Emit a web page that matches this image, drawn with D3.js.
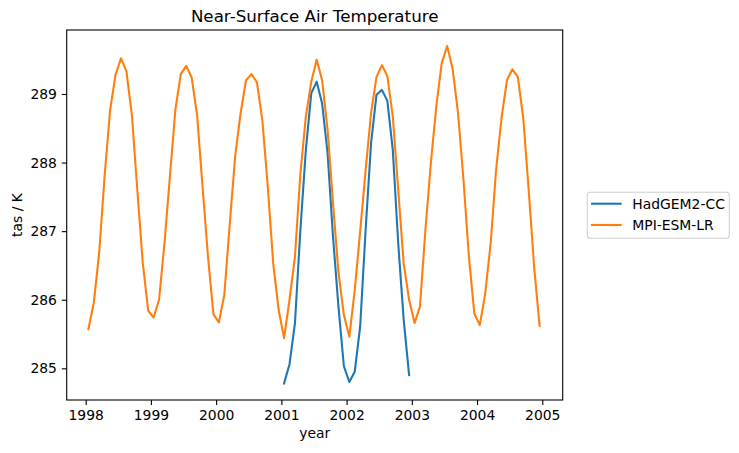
<!DOCTYPE html>
<html>
<head>
<meta charset="utf-8">
<script src="https://cdn.jsdelivr.net/npm/d3@7"></script>
<style>
	body { margin: 0; background: #fff; }
	svg text { font-family: "DejaVu Sans", sans-serif; fill: #000; }
</style>
</head>
<body>
<svg id="chart"></svg>
<script>
// monthly means, one value per month
const mpiStart = 1998;
const mpiValues = [
	285.57, 285.96, 286.70, 287.82, 288.77, 289.28, 289.52, 289.33, 288.69, 287.60, 286.54, 285.84,
	285.74, 286.00, 286.83, 287.80, 288.77, 289.29, 289.41, 289.24, 288.69, 287.65, 286.63, 285.79,
	285.67, 286.07, 287.10, 288.09, 288.72, 289.20, 289.29, 289.17, 288.62, 287.65, 286.53, 285.85,
	285.44, 286.00, 286.63, 287.84, 288.67, 289.18, 289.50, 289.20, 288.48, 287.41, 286.40, 285.78,
	285.46, 286.14, 287.00, 287.89, 288.72, 289.25, 289.42, 289.26, 288.67, 287.60, 286.53, 286.00,
	285.66, 285.90, 287.02, 287.99, 288.82, 289.45, 289.70, 289.37, 288.72, 287.75, 286.63, 285.80,
	285.63, 286.09, 286.82, 287.89, 288.65, 289.20, 289.36, 289.25, 288.65, 287.60, 286.48, 285.62
];
const hadgemStart = 2001;
const hadgemValues = [
	284.78, 285.06, 285.66, 287.02, 288.18, 289.01, 289.18, 288.86, 288.14, 286.92, 285.90, 285.03,
	284.80, 284.95, 285.61, 287.02, 288.28, 288.99, 289.06, 288.90, 288.18, 286.82, 285.71, 284.90
];
const seriesNames = ["HadGEM2-CC", "MPI-ESM-LR"];
const xTicks = [1998, 1999, 2000, 2001, 2002, 2003, 2004, 2005];
const yTicks = [285, 286, 287, 288, 289];

const W = 739, H = 453;
const plot = { left: 66.7, top: 30, right: 562.7, bottom: 400 };
const colors = ["#1f77b4", "#ff7f0e"];

const toPoints = (start, vals) => vals.map((v, i) => ({ t: start + (i + 0.5) / 12, v }));
const series = [toPoints(hadgemStart, hadgemValues), toPoints(mpiStart, mpiValues)];

const svg = d3.select("#chart").attr("width", W).attr("height", H);

const x = d3.scaleLinear().domain([1997.709, 2005.313]).range([plot.left, plot.right]);
const y = d3.scaleLinear().domain([284.538, 289.933]).range([plot.bottom, plot.top]);

const line = d3.line().x(d => x(d.t)).y(d => y(d.v));

const clipG = svg.append("defs").append("clipPath").attr("id", "clip")
	.append("rect")
	.attr("x", plot.left).attr("y", plot.top)
	.attr("width", plot.right - plot.left).attr("height", plot.bottom - plot.top);

svg.append("g").attr("clip-path", "url(#clip)")
	.selectAll("path")
	.data(series)
	.enter()
	.append("path")
	.attr("d", line)
	.attr("fill", "none")
	.attr("stroke", (d, i) => colors[i])
	.attr("stroke-width", 2.1)
	.attr("stroke-linejoin", "round")
	.attr("stroke-linecap", "square");

// axes
const xAxis = svg.append("g")
	.attr("transform", "translate(0," + plot.bottom + ")")
	.call(d3.axisBottom(x).tickValues(xTicks).tickFormat(d3.format("d")).tickSize(4.9).tickPadding(4.9));
const yAxis = svg.append("g")
	.attr("transform", "translate(" + plot.left + ",0)")
	.call(d3.axisLeft(y).tickValues(yTicks).tickFormat(d3.format("d")).tickSize(4.9).tickPadding(4.9));

[xAxis, yAxis].forEach(a => {
	a.select(".domain").remove();
	a.selectAll(".tick line").attr("stroke", "#000").attr("stroke-width", 1.1);
	a.selectAll(".tick text").style("font-size", "13.9px").attr("fill", "#000");
});

// frame
svg.append("rect")
	.attr("x", plot.left).attr("y", plot.top)
	.attr("width", plot.right - plot.left).attr("height", plot.bottom - plot.top)
	.attr("fill", "none").attr("stroke", "#000").attr("stroke-width", 1.1);

// labels
svg.append("text")
	.attr("x", (plot.left + plot.right) / 2).attr("y", 22)
	.attr("text-anchor", "middle").style("font-size", "16.7px")
	.text("Near-Surface Air Temperature");
svg.append("text")
	.attr("x", (plot.left + plot.right) / 2).attr("y", 438)
	.attr("text-anchor", "middle").style("font-size", "13.9px")
	.text("year");
svg.append("text")
	.attr("transform", "translate(22," + (plot.top + plot.bottom) / 2 + ") rotate(-90)")
	.attr("text-anchor", "middle").style("font-size", "13.9px")
	.text("tas / K");

// legend
const legend = svg.append("g");
legend.append("rect")
	.attr("x", 587.3).attr("y", 192.3).attr("width", 142).attr("height", 46)
	.attr("rx", 3).attr("fill", "#fff").attr("stroke", "#d0d0d0").attr("stroke-width", 1.1);
const items = legend.selectAll("g.item")
	.data(seriesNames)
	.enter()
	.append("g")
	.attr("class", "item")
	.attr("transform", (d, i) => "translate(0," + (203.7 + i * 21.3) + ")");
items.append("line")
	.attr("x1", 591).attr("x2", 621.7)
	.attr("stroke", (d, i) => colors[i]).attr("stroke-width", 2.1);
items.append("text")
	.attr("x", 632.3).attr("y", 5)
	.style("font-size", "13.9px")
	.text(d => d);
</script>
</body>
</html>
